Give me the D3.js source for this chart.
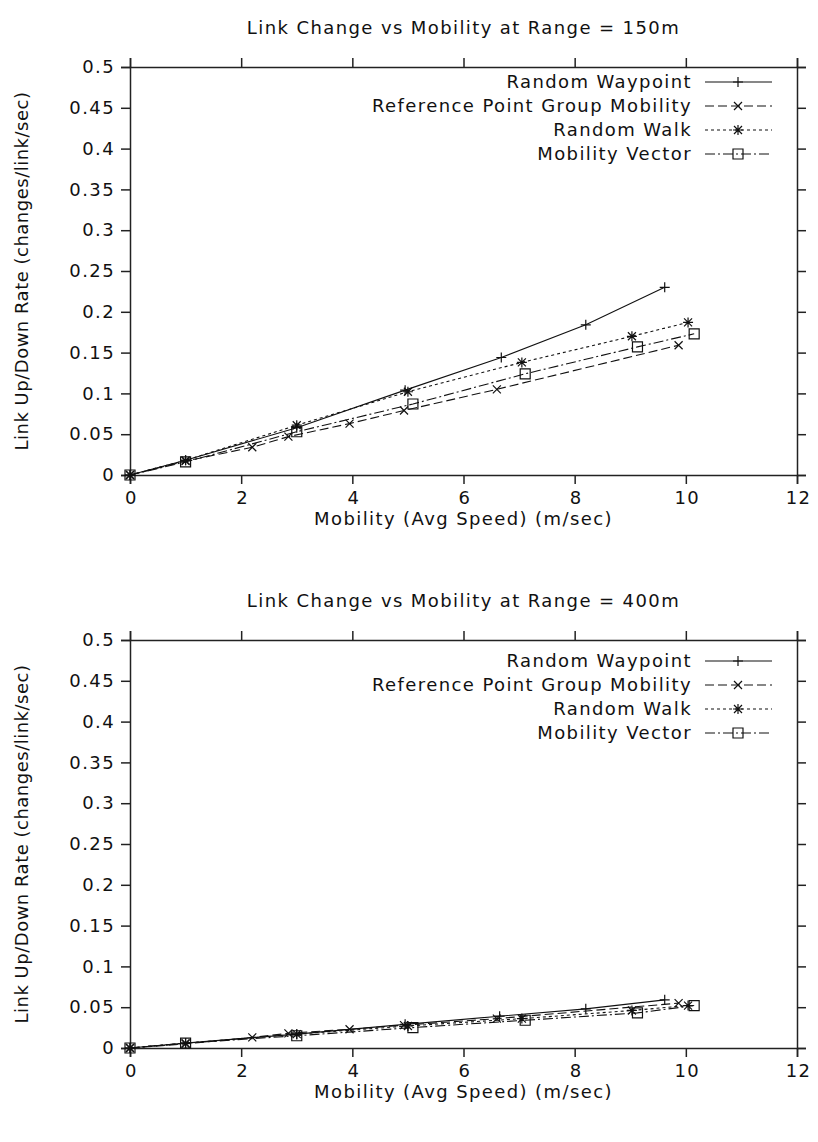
<!DOCTYPE html>
<html><head><meta charset="utf-8">
<script src="https://cdn.jsdelivr.net/npm/d3@7"></script>
<style>
body{margin:0;background:#fff;}
text{font-family:"DejaVu Sans",sans-serif;fill:#111;}
</style></head>
<body><svg id="c" width="818" height="1142"></svg>
<script>
const seriesNames = ["Random Waypoint","Reference Point Group Mobility","Random Walk","Mobility Vector"];
const xTicks = [0,2,4,6,8,10,12];
const yTicks = [0,0.05,0.1,0.15,0.2,0.25,0.3,0.35,0.4,0.45,0.5];
const titles = ["Link Change vs Mobility at Range = 150m","Link Change vs Mobility at Range = 400m"];
const xLabel = "Mobility (Avg Speed) (m/sec)";
const yLabel = "Link Up/Down Rate (changes/link/sec)";

// Range = 150m
const rwp150  = [[0,0],[1,0.018],[3,0.058],[4.95,0.104],[6.68,0.144],[8.2,0.184],[9.62,0.230]];
const rpgm150 = [[0,0],[1,0.017],[2.2,0.034],[2.85,0.047],[3.95,0.063],[4.93,0.079],[6.6,0.105],[9.87,0.159]];
const rw150   = [[0,0],[1,0.018],[3,0.061],[5.0,0.102],[7.05,0.138],[9.03,0.170],[10.04,0.187]];
const mv150   = [[0,0],[1,0.016],[3,0.053],[5.09,0.087],[7.11,0.124],[9.13,0.157],[10.15,0.173]];
// Range = 400m
const rwp400  = [[0,0],[1,0.006],[3,0.017],[4.95,0.029],[6.65,0.039],[8.2,0.048],[9.62,0.059]];
const rpgm400 = [[0,0],[1,0.005],[2.2,0.013],[2.85,0.018],[3.95,0.023],[4.93,0.028],[6.6,0.036],[9.87,0.055]];
const rw400   = [[0,0],[1,0.006],[3,0.017],[5.0,0.027],[7.05,0.036],[9.03,0.046],[10.04,0.052]];
const mv400   = [[0,0],[1,0.006],[3,0.015],[5.09,0.025],[7.11,0.034],[9.13,0.043],[10.15,0.052]];

const styles = [
  {dash:null, marker:"plus"},
  {dash:"9,4", marker:"cross"},
  {dash:"3,3", marker:"star"},
  {dash:"10,3,2,3", marker:"square"}
];

const svg = d3.select("#c");
const L = 130, R = 797;
const FS = "18px", LS = "1.4px";

function marker(g, type, x, y){
  const s = 5;
  const p = g.append("path").attr("fill","none").attr("stroke","#111").attr("stroke-width",1.2);
  if(type==="plus") p.attr("d",`M${x-s},${y}H${x+s}M${x},${y-s}V${y+s}`);
  else if(type==="cross") p.attr("d",`M${x-4},${y-4}L${x+4},${y+4}M${x-4},${y+4}L${x+4},${y-4}`);
  else if(type==="star") p.attr("d",`M${x-s},${y}H${x+s}M${x},${y-s}V${y+s}M${x-4},${y-4}L${x+4},${y+4}M${x-4},${y+4}L${x+4},${y-4}`);
  else p.attr("d",`M${x-5},${y-5}h10v10h-10z`);
}

function txt(g, x, y, s, anchor){
  return g.append("text").attr("x",x).attr("y",y).attr("dy","0.35em").attr("text-anchor",anchor||"middle")
    .style("font-size",FS).style("letter-spacing",LS).text(s);
}

function chart(top, bottom, title, data, legendY){
  const x = d3.scaleLinear().domain([0,12]).range([L,R]);
  const y = d3.scaleLinear().domain([0,0.5]).range([bottom,top]);
  const g = svg.append("g");
  const fmt = d => d===0 ? "0" : String(+d.toFixed(2));
  const ax = [
    d3.axisBottom(x).tickValues(xTicks).tickSize(9).tickFormat(d3.format("d")),
    d3.axisTop(x).tickValues(xTicks).tickSize(9).tickFormat(""),
    d3.axisLeft(y).tickValues(yTicks).tickSize(9).tickFormat(fmt),
    d3.axisRight(y).tickValues(yTicks).tickSize(9).tickFormat("")
  ];
  const tr = [`translate(0,${bottom})`,`translate(0,${top})`,`translate(${L},0)`,`translate(${R},0)`];
  ax.forEach((a,i)=>{
    const ag = g.append("g").attr("transform",tr[i]).call(a);
    ag.selectAll("path,line").attr("stroke","#222").attr("stroke-width",1.5);
    ag.selectAll("text").style("font-family","DejaVu Sans").style("font-size",FS).style("letter-spacing",LS).attr("fill","#111");
    if(i===0) ag.selectAll("text").attr("dy","0.95em").attr("dx","1px");
    if(i===2) ag.selectAll("text").attr("x",-15);
  });
  txt(g,(L+R)/2,top-39,title);
  txt(g,(L+R)/2,bottom+44,xLabel);
  g.append("text").attr("transform",`translate(22,${(top+bottom)/2}) rotate(-90)`).attr("dy","0.35em").attr("text-anchor","middle")
    .style("font-size",FS).style("letter-spacing","0.5px").text(yLabel);

  const line = d3.line().x(d=>x(d[0])).y(d=>y(d[1]));
  data.forEach((s,i)=>{
    g.append("path").datum(s).attr("d",line).attr("fill","none").attr("stroke","#111").attr("stroke-width",1.1)
      .attr("stroke-dasharray",styles[i].dash);
    s.forEach(d=>marker(g,styles[i].marker,x(d[0]),y(d[1])));
  });
  seriesNames.forEach((n,i)=>{
    const ly = legendY + i*24;
    txt(g,692,ly,n,"end");
    g.append("line").attr("x1",705).attr("x2",772).attr("y1",ly).attr("y2",ly).attr("stroke","#111").attr("stroke-width",1.1).attr("stroke-dasharray",styles[i].dash);
    marker(g,styles[i].marker,738,ly);
  });
}

chart(67,475,titles[0],[rwp150,rpgm150,rw150,mv150],82);
chart(640,1048,titles[1],[rwp400,rpgm400,rw400,mv400],661);
</script></body></html>
